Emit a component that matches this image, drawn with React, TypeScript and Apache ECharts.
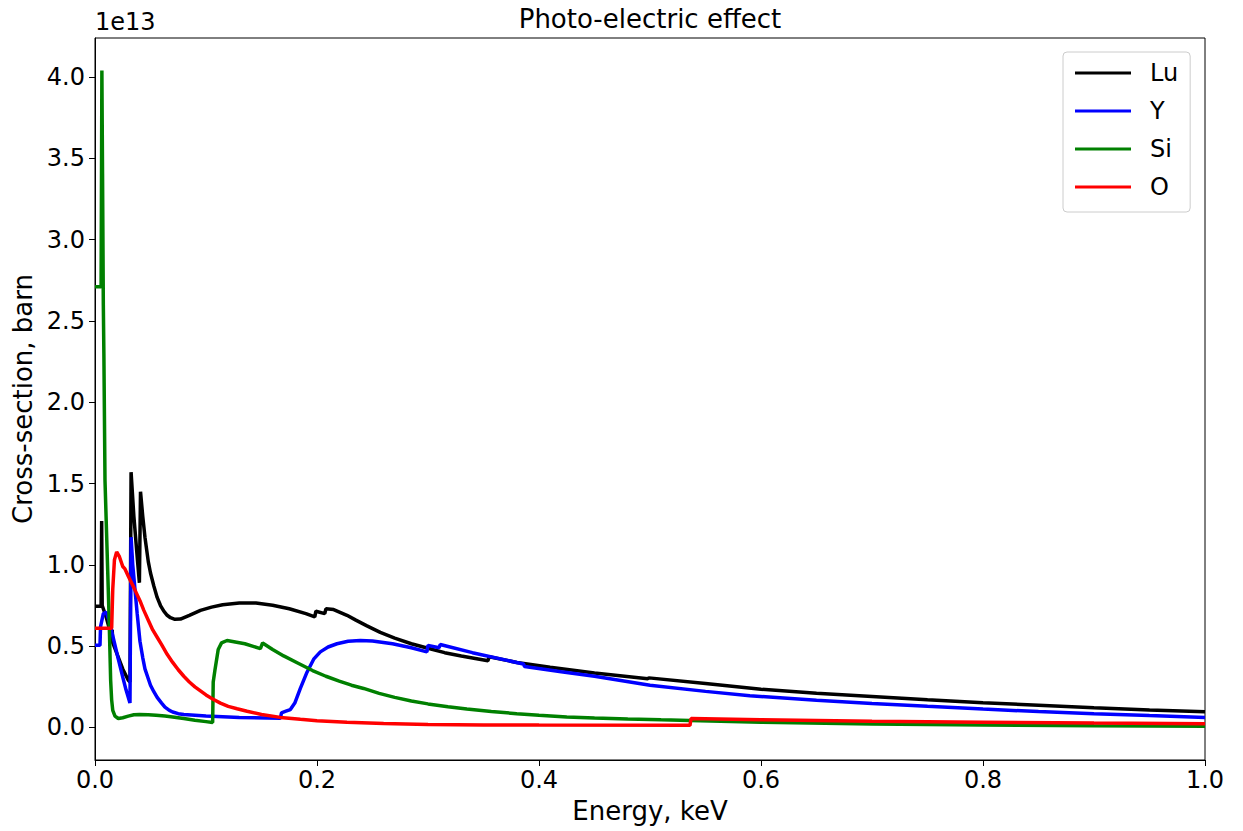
import React, { useEffect, useRef } from 'react';
import * as echarts from 'echarts';

// Values in units of 1e13 barn, energy in keV
const luData: [number, number][] = [
  [0, 0.745], [0.0055, 0.745], [0.006, 1.27], [0.0065, 0.75], [0.010, 0.68], [0.014, 0.58],
  [0.0155, 0.60], [0.016, 0.52], [0.020, 0.45], [0.025, 0.36], [0.030, 0.29], [0.0315, 0.28],
  [0.0325, 1.57], [0.035, 1.30], [0.038, 1.05], [0.040, 0.89], [0.041, 1.45], [0.043, 1.30],
  [0.045, 1.17], [0.048, 1.02], [0.050, 0.95], [0.053, 0.87], [0.056, 0.80], [0.059, 0.75],
  [0.062, 0.715], [0.065, 0.69], [0.068, 0.675], [0.072, 0.665], [0.077, 0.667], [0.085, 0.69],
  [0.095, 0.72], [0.105, 0.74], [0.115, 0.755], [0.130, 0.765], [0.145, 0.765], [0.160, 0.752],
  [0.175, 0.73], [0.190, 0.70], [0.198, 0.68], [0.199, 0.715], [0.207, 0.70], [0.208, 0.73],
  [0.215, 0.725], [0.227, 0.69], [0.235, 0.66], [0.245, 0.625], [0.257, 0.585], [0.270, 0.55],
  [0.285, 0.515], [0.300, 0.487], [0.315, 0.46], [0.330, 0.44], [0.354, 0.41], [0.355, 0.435],
  [0.380, 0.40], [0.410, 0.37], [0.450, 0.335], [0.498, 0.30], [0.499, 0.305], [0.550, 0.27],
  [0.600, 0.235], [0.650, 0.21], [0.700, 0.19], [0.750, 0.17], [0.800, 0.152], [0.850, 0.137],
  [0.900, 0.122], [0.950, 0.108], [1.0, 0.096],
];

const yData: [number, number][] = [
  [0, 0.505], [0.0045, 0.505], [0.005, 0.62], [0.0075, 0.70], [0.010, 0.71], [0.013, 0.65],
  [0.017, 0.535], [0.021, 0.42], [0.025, 0.31], [0.028, 0.23], [0.0315, 0.15], [0.0325, 1.17],
  [0.034, 1.0], [0.036, 0.85], [0.038, 0.70], [0.0405, 0.53], [0.043, 0.43], [0.045, 0.36],
  [0.048, 0.30], [0.050, 0.26], [0.053, 0.22], [0.056, 0.185], [0.060, 0.15], [0.063, 0.125],
  [0.067, 0.105], [0.070, 0.095], [0.075, 0.085], [0.080, 0.08], [0.100, 0.07], [0.130, 0.062],
  [0.167, 0.056], [0.168, 0.09], [0.172, 0.10], [0.176, 0.11], [0.180, 0.15], [0.185, 0.24],
  [0.191, 0.34], [0.197, 0.42], [0.203, 0.465], [0.210, 0.495], [0.218, 0.515], [0.228, 0.53],
  [0.239, 0.535], [0.250, 0.532], [0.268, 0.515], [0.285, 0.49], [0.299, 0.465], [0.300, 0.505],
  [0.310, 0.49], [0.311, 0.51], [0.340, 0.46], [0.386, 0.39], [0.387, 0.375], [0.420, 0.343],
  [0.450, 0.315], [0.500, 0.26], [0.550, 0.222], [0.590, 0.195], [0.650, 0.167], [0.700, 0.148],
  [0.750, 0.13], [0.800, 0.113], [0.850, 0.098], [0.900, 0.085], [0.950, 0.073], [1.0, 0.062],
];

const siData: [number, number][] = [
  [0, 2.71], [0.0055, 2.71], [0.0062, 4.04], [0.0068, 3.4], [0.0075, 2.6], [0.008, 2.3],
  [0.009, 1.52], [0.0108, 1.11], [0.0126, 0.70], [0.0141, 0.29], [0.015, 0.17], [0.016, 0.105],
  [0.018, 0.07], [0.021, 0.055], [0.025, 0.06], [0.030, 0.07], [0.035, 0.078], [0.040, 0.08],
  [0.048, 0.078], [0.055, 0.075], [0.063, 0.07], [0.070, 0.065], [0.080, 0.055], [0.090, 0.045],
  [0.100, 0.036], [0.106, 0.03], [0.1065, 0.28], [0.108, 0.35], [0.111, 0.48], [0.114, 0.52],
  [0.119, 0.535], [0.135, 0.515], [0.149, 0.485], [0.151, 0.52], [0.160, 0.48], [0.170, 0.44],
  [0.183, 0.395], [0.196, 0.35], [0.208, 0.315], [0.220, 0.285], [0.231, 0.26], [0.242, 0.24],
  [0.256, 0.21], [0.270, 0.185], [0.285, 0.163], [0.300, 0.145], [0.318, 0.128], [0.335, 0.113],
  [0.357, 0.098], [0.380, 0.085], [0.400, 0.075], [0.425, 0.065], [0.450, 0.058], [0.480, 0.052],
  [0.510, 0.047], [0.536, 0.043], [0.600, 0.032], [0.700, 0.022], [0.800, 0.015], [0.900, 0.01],
  [1.0, 0.007],
];

const oData: [number, number][] = [
  [0, 0.61], [0.015, 0.61], [0.016, 0.85], [0.0175, 1.03], [0.0195, 1.08], [0.022, 1.05],
  [0.025, 0.99], [0.027, 0.975], [0.030, 0.93], [0.035, 0.86], [0.0405, 0.78], [0.044, 0.72],
  [0.048, 0.66], [0.052, 0.60], [0.056, 0.555], [0.060, 0.51], [0.065, 0.45], [0.070, 0.40],
  [0.075, 0.355], [0.080, 0.315], [0.085, 0.28], [0.090, 0.25], [0.095, 0.225], [0.100, 0.20],
  [0.106, 0.175], [0.113, 0.15], [0.120, 0.13], [0.128, 0.115], [0.137, 0.10], [0.150, 0.08],
  [0.167, 0.062], [0.185, 0.05], [0.200, 0.042], [0.227, 0.032], [0.260, 0.024], [0.300, 0.019],
  [0.350, 0.016], [0.400, 0.015], [0.536, 0.013], [0.537, 0.055], [0.600, 0.047], [0.700, 0.038],
  [0.800, 0.032], [0.900, 0.027], [1.0, 0.023],
];

const seriesNames = ['Lu', 'Y', 'Si', 'O'];
const seriesColors = ['#000000', '#0000ff', '#008000', '#ff0000'];
const yTicks = [0, 0.5, 1.0, 1.5, 2.0, 2.5, 3.0, 3.5, 4.0];
const xTicks = [0, 0.2, 0.4, 0.6, 0.8, 1.0];

const FONT = 'DejaVu Sans';

export default function App() {
  const ref = useRef<HTMLDivElement>(null);
  useEffect(() => {
    if (!ref.current) return;
    const chart = echarts.init(ref.current, null, { renderer: 'svg' });
    const datasets = [luData, yData, siData, oData];
    chart.setOption({
      animation: false,
      backgroundColor: '#ffffff',
      textStyle: { fontFamily: FONT },
      grid: {
        left: 95, right: 38, top: 38, bottom: 71,
        show: true, borderColor: '#000', borderWidth: 1, backgroundColor: 'transparent',
      },
      graphic: [
        {
          type: 'text', x: 650, y: 6,
          style: { text: 'Photo-electric effect', fontFamily: FONT, fontSize: 26, fill: '#000', textAlign: 'center' },
        },
        {
          type: 'text', x: 95, y: 10,
          style: { text: '1e13', fontFamily: FONT, fontSize: 24, fill: '#000', textAlign: 'left' },
        },
      ],
      legend: {
        orient: 'vertical',
        left: 1063, top: 52,
        data: seriesNames,
        icon: 'rect',
        itemWidth: 56, itemHeight: 3,
        itemGap: 14,
        padding: [9, 12, 13, 12],
        borderColor: '#cccccc', borderWidth: 1, borderRadius: 4,
        backgroundColor: '#ffffff',
        textStyle: { fontFamily: FONT, fontSize: 24, color: '#000', lineHeight: 24, padding: [0, 0, 0, 14] },
      },
      xAxis: {
        type: 'value', min: 0, max: 1, interval: 0.2,
        name: 'Energy, keV', nameLocation: 'middle', nameGap: 38,
        nameTextStyle: { fontFamily: FONT, fontSize: 26, color: '#000' },
        axisLine: { show: true, onZero: false, lineStyle: { color: '#000', width: 1 } },
        axisTick: { show: true, inside: false, length: 6, lineStyle: { color: '#000' }, customValues: xTicks },
        axisLabel: {
          fontFamily: FONT, fontSize: 24, color: '#000', margin: 8,
          customValues: xTicks,
          formatter: (v: number) => v.toFixed(1),
        },
        splitLine: { show: false },
      },
      yAxis: {
        type: 'value', min: -0.2, max: 4.24,
        name: 'Cross-section, barn', nameLocation: 'middle', nameGap: 57,
        nameTextStyle: { fontFamily: FONT, fontSize: 26, color: '#000' },
        axisLine: { show: true, onZero: false, lineStyle: { color: '#000', width: 1 } },
        axisTick: { show: true, inside: false, length: 6, lineStyle: { color: '#000' }, customValues: yTicks },
        axisLabel: {
          fontFamily: FONT, fontSize: 24, color: '#000', margin: 10,
          customValues: yTicks,
          formatter: (v: number) => v.toFixed(1),
        },
        splitLine: { show: false },
      },
      series: seriesNames.map((name, i) => ({
        name,
        type: 'line',
        data: datasets[i],
        showSymbol: false,
        symbol: 'none',
        clip: true,
        lineStyle: { color: seriesColors[i], width: 3.5 },
        itemStyle: { color: seriesColors[i] },
        emphasis: { disabled: true },
      })),
    });
    return () => chart.dispose();
  }, []);
  return <div ref={ref} style={{ position: 'fixed', left: 0, top: 0, width: 1243, height: 831 }} />;
}
